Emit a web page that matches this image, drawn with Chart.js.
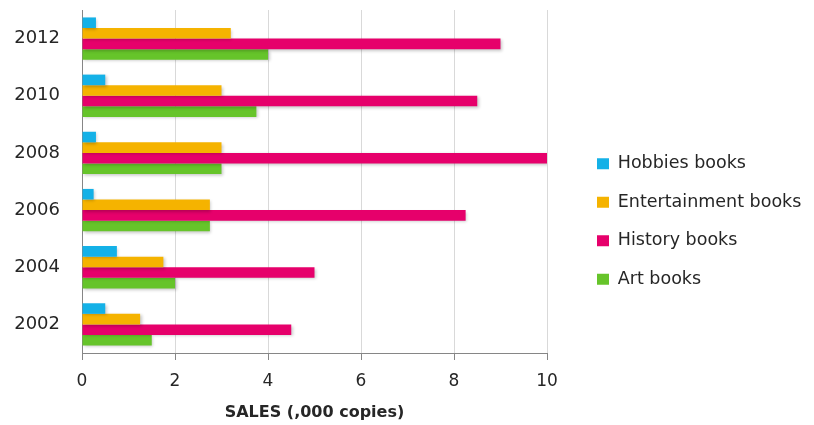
<!DOCTYPE html>
<html>
<head>
<meta charset="utf-8">
<script src="https://cdn.jsdelivr.net/npm/chart.js@4.4.1/dist/chart.umd.min.js"></script>
<style>
html, body { margin: 0; padding: 0; background: #fff; }
</style>
</head>
<body>
<canvas id="chart1" width="814" height="425"></canvas>
<script>
// values, top category first
const years = ['2012', '2010', '2008', '2006', '2004', '2002'];
const hobbies_sales = [0.3, 0.5, 0.3, 0.25, 0.75, 0.5];
const entertainment_sales = [3.2, 3, 3, 2.75, 1.75, 1.25];
const history_sales = [9, 8.5, 10, 8.25, 5, 4.5];
const art_sales = [4, 3.75, 3, 2.75, 2, 1.5];
const series_names = ['Hobbies books', 'Entertainment books', 'History books', 'Art books'];
const series_colors = ['#14b1e7', '#f5b300', '#e6006b', '#66c42a'];

Chart.defaults.font.family = "'DejaVu Sans', sans-serif";
Chart.defaults.color = '#262626';

// legend sits well to the right of the plot, as in the original
const legend_place = {
    id: 'legend_place',
    beforeUpdate(chart) {
        const lg = chart.legend;
        if (!lg || lg._patched) return;
        const fit = lg.fit;
        lg.fit = function () {
            fit.call(this);
            this.width = 267;
        };
        lg._patched = true;
    },
    afterLayout(chart) {
        const lg = chart.legend;
        lg.left += 29;
        lg.top += 4;
        lg.bottom += 4;
    }
};

// soft drop shadow under the bars
const bar_shadow = {
    id: 'bar_shadow',
    beforeDatasetsDraw(chart) {
        const ctx = chart.ctx;
        ctx.save();
        ctx.shadowColor = 'rgba(0,0,0,0.22)';
        ctx.shadowBlur = 3;
        ctx.shadowOffsetX = 1.5;
        ctx.shadowOffsetY = 1.5;
    },
    afterDatasetsDraw(chart) {
        chart.ctx.restore();
    }
};

const all_sales = [hobbies_sales, entertainment_sales, history_sales, art_sales];
const datasets = [];
for (let i = 0; i < all_sales.length; i++) {
    datasets.push({
        label: series_names[i],
        data: all_sales[i],
        backgroundColor: series_colors[i],
        borderWidth: 0,
        categoryPercentage: 0.74,
        barPercentage: 1.0
    });
}

const chart1_cfg = {
    type: 'bar',
    data: {
        labels: years,
        datasets: datasets
    },
    options: {
        indexAxis: 'y',
        responsive: false,
        animation: false,
        layout: {
            padding: { left: 12, top: 10, right: 0, bottom: 0 }
        },
        scales: {
            x: {
                min: 0,
                max: 10,
                ticks: {
                    stepSize: 2,
                    padding: 11,
                    font: { size: 17 },
                    color: '#262626'
                },
                grid: {
                    color: '#d9d9d9',
                    tickColor: '#868686',
                    tickLength: 7
                },
                border: { color: '#868686' },
                title: {
                    display: true,
                    text: 'SALES (,000 copies)',
                    font: { size: 16, weight: 'bold' },
                    color: '#262626',
                    padding: { top: 0, bottom: 3 }
                },
                afterFit(scale) { scale.height = 72; }
            },
            y: {
                grid: { display: false, drawTicks: false },
                border: { display: true, color: '#868686' },
                ticks: {
                    padding: 22,
                    font: { size: 18 },
                    color: '#262626'
                },
                afterFit(scale) {
                    scale.width = 70;
                    scale.paddingTop = 0;
                    scale.paddingBottom = 0;
                }
            }
        },
        plugins: {
            legend: {
                position: 'right',
                labels: {
                    boxWidth: 12,
                    boxHeight: 11,
                    padding: 21,
                    font: { size: 17.5 },
                    color: '#262626'
                }
            },
            tooltip: { enabled: false }
        }
    },
    plugins: [legend_place, bar_shadow]
};

const chart1_ctx = document.getElementById('chart1').getContext('2d');
let chart1 = new Chart(chart1_ctx, chart1_cfg);
</script>
</body>
</html>
